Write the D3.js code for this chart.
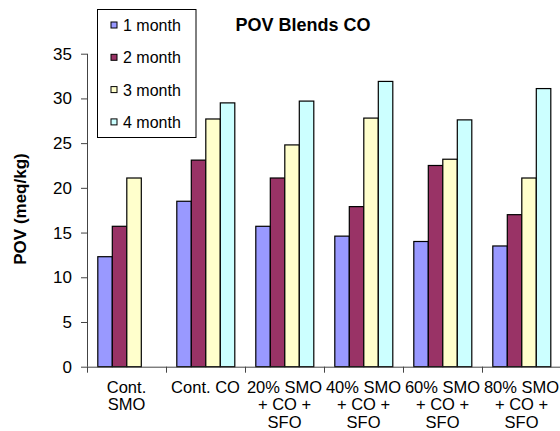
<!DOCTYPE html>
<html><head><meta charset="utf-8">
<script src="https://cdn.jsdelivr.net/npm/d3@7"></script>
<style>html,body{margin:0;padding:0;background:#fff;overflow:hidden}svg{display:block;font-family:Arial,"Liberation Sans",sans-serif}</style>
</head><body>
<svg id="c" width="560" height="431"></svg>
<script>
const categories = [["Cont.","SMO"],["Cont. CO"],["20% SMO","+ CO +","SFO"],["40% SMO","+ CO +","SFO"],["60% SMO","+ CO +","SFO"],["80% SMO","+ CO +","SFO"]];
const seriesNames = ["1 month","2 month","3 month","4 month"];
const month1 = [12.3, 18.5, 15.7, 14.6, 14.0, 13.5];
const month2 = [15.7, 23.1, 21.1, 17.9, 22.5, 17.0];
const month3 = [21.1, 27.7, 24.8, 27.8, 23.2, 21.1];
const month4 = [null, 29.5, 29.7, 31.9, 27.6, 31.1];
const yTicks = [0,5,10,15,20,25,30,35];
const colors = ["#9999FF","#993366","#FFFFCC","#CCFFFF"];
const title = "POV Blends CO";
const yLabel = "POV (meq/kg)";

const series = [month1, month2, month3, month4];
const svg = d3.select("#c");
const pLeft = 87, pRight = 561, pTop = 53.7, pBottom = 366.7;

const x0 = d3.scaleBand().domain(d3.range(categories.length)).range([pLeft, pRight]).padding(0);
const x1 = d3.scaleBand().domain(d3.range(series.length)).range([10.8, x0.bandwidth() - 10.2]).padding(0);
const y = d3.scaleLinear().domain([0, 35]).range([pBottom, pTop]);

// bars
series.forEach((vals, s) => {
  svg.append("g").selectAll("rect").data(vals.map((v,i)=>({v,i})).filter(d=>d.v!=null))
    .join("rect")
    .attr("x", d => x0(d.i) + x1(s))
    .attr("y", d => y(d.v))
    .attr("width", x1.bandwidth())
    .attr("height", d => y(0) - y(d.v))
    .attr("fill", colors[s])
    .attr("stroke", "#000")
    .attr("stroke-width", 1.2);
});

// y axis
const yAxis = d3.axisLeft(y).tickValues(yTicks).tickSize(6).tickPadding(9);
const gy = svg.append("g").attr("transform", `translate(${pLeft},0)`).call(yAxis);
gy.select(".domain").attr("stroke", "#444").attr("d", `M0.5,${pTop}V${pBottom}`);
gy.selectAll(".tick line").attr("stroke", "#444");
gy.selectAll(".tick text").attr("font-size", 17).attr("fill", "#000").attr("font-family", "Arial, 'Liberation Sans', sans-serif");

// x axis
const gx = svg.append("g").attr("transform", `translate(0,${pBottom})`);
gx.append("line").attr("x1", pLeft).attr("x2", 560).attr("y1", 0.5).attr("y2", 0.5).attr("stroke", "#444");
gx.selectAll("line.tk").data(d3.range(categories.length + 1)).join("line").attr("class","tk")
  .attr("x1", i => pLeft + i * x0.bandwidth() + 0.5).attr("x2", i => pLeft + i * x0.bandwidth() + 0.5)
  .attr("y1", 0).attr("y2", 6).attr("stroke", "#444");
gx.selectAll("text").data(categories).join("text")
  .attr("text-anchor", "middle")
  .attr("font-size", 16.5)
  .attr("transform", (d,i) => `translate(${x0(i) + x0.bandwidth()/2},0)`)
  .each(function(d){
    d3.select(this).selectAll("tspan").data(d).join("tspan")
      .attr("x", 0).attr("y", (t,j) => 26 + j * 17.5).text(t => t);
  });

// title
svg.append("text").attr("x", 303).attr("y", 31).attr("text-anchor", "middle")
  .attr("font-size", 18).attr("font-weight", "bold").text(title);

// y label
svg.append("text").attr("transform", "translate(26,209) rotate(-90)").attr("text-anchor", "middle")
  .attr("font-size", 17).attr("font-weight", "bold").text(yLabel);

// legend
const lg = svg.append("g");
lg.append("rect").attr("x", 97.5).attr("y", 9.5).attr("width", 98.5).attr("height", 128)
  .attr("fill", "#fff").attr("stroke", "#000").attr("stroke-width", 1);
seriesNames.forEach((n, i) => {
  const cy = 25 + i * 32.3;
  lg.append("rect").attr("x", 111).attr("y", cy - 3).attr("width", 6).attr("height", 6)
    .attr("fill", colors[i]).attr("stroke", "#000").attr("stroke-width", 1);
  lg.append("text").attr("x", 123).attr("y", cy + 6).attr("font-size", 16).text(n);
});
</script>
</body></html>
